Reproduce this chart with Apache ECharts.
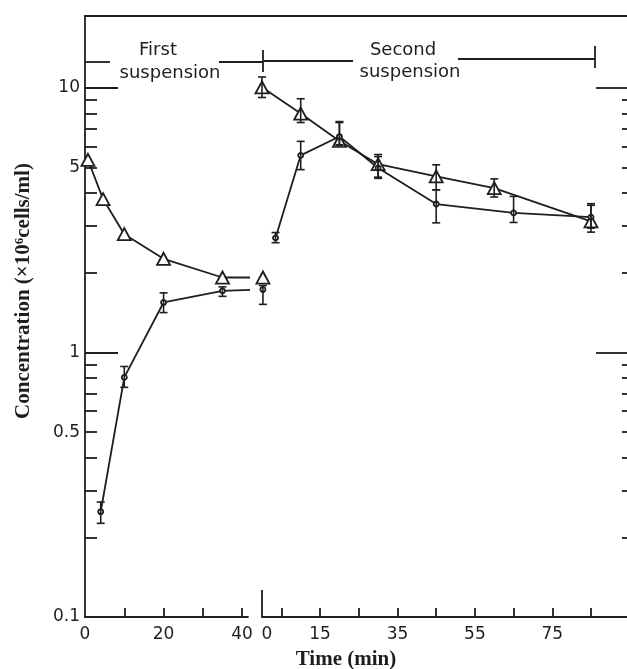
<!DOCTYPE html>
<html><head><meta charset="utf-8">
<script src="https://cdn.jsdelivr.net/npm/echarts@6/dist/echarts.min.js"></script>
<style>html,body{margin:0;padding:0;background:#fff}#c{width:627px;height:669px}</style>
</head><body><div id="c"></div>
<script>
// ---- First suspension (time in min, concentration x10^6 cells/ml) ----
const firstTriTime = [0.75, 4.6, 10, 20, 35, 45.3];
const firstTriConc = [5.35, 3.8, 2.8, 2.26, 1.92, 1.92];
const firstCirTime = [4, 10, 20, 35, 45.3];
const firstCirConc = [0.25, 0.805, 1.545, 1.71, 1.73];
const firstCirLow  = [0.226, 0.738, 1.415, 1.63, 1.52];
const firstCirHigh = [0.272, 0.885, 1.68, 1.77, 1.79];
// ---- Second suspension ----
const secondTriTime = [0, 10, 20, 30, 45, 60, 85];
const secondTriConc = [10.05, 8.0, 6.3, 5.15, 4.63, 4.18, 3.13];
const secondTriLow  = [9.2, 7.4, 6.05, 4.55, 4.12, 3.87, 2.85];
const secondTriHigh = [11.0, 9.1, 7.4, 5.6, 5.12, 4.53, 3.65];
const secondCirTime = [3.5, 10, 20, 30, 45, 65, 85];
const secondCirConc = [2.71, 5.56, 6.55, 4.98, 3.64, 3.37, 3.25];
const secondCirLow  = [2.6, 4.91, 6.1, 4.6, 3.09, 3.1, 2.95];
const secondCirHigh = [2.84, 6.28, 7.46, 5.5, 4.12, 3.89, 3.6];
// ---- Ticks / labels ----
const yMajorTicks = [1, 10];
const yMinorTicks = [0.2, 0.3, 0.4, 0.5, 0.6, 0.7, 0.8, 0.9, 2, 3, 4, 5, 6, 7, 8, 9];
const yTickLabels = [0.1, 0.5, 1, 5, 10];
const firstTimeTicks = [10, 20, 30, 40];
const firstTimeLabels = [0, 20, 40];
const secondTimeTicks = [5, 15, 25, 35, 45, 55, 65, 75, 85];
const secondTimeLabels = [0, 15, 35, 55, 75];

const INK = '#1e1e1e';
const LW = 1.8;
const Y_MIN = 0.1, Y_MAX = 18.7;
const labelFont = {color: INK, fontFamily: 'DejaVu Sans', fontSize: 17};

function errBars(times, lo, hi, xi, yi) {
  return {
    type: 'custom', xAxisIndex: xi, yAxisIndex: yi, clip: false, z: 5, silent: true,
    data: times.map((t, i) => [t, lo[i], hi[i]]),
    encode: {x: 0, y: [1, 2]},
    renderItem(params, api) {
      const x = api.value(0);
      const a = api.coord([x, api.value(1)]);
      const b = api.coord([x, api.value(2)]);
      const w = 4, st = {stroke: INK, lineWidth: 1.6};
      return {type: 'group', children: [
        {type: 'line', shape: {x1: a[0], y1: a[1], x2: b[0], y2: b[1]}, style: st},
        {type: 'line', shape: {x1: a[0]-w, y1: a[1], x2: a[0]+w, y2: a[1]}, style: st},
        {type: 'line', shape: {x1: b[0]-w, y1: b[1], x2: b[0]+w, y2: b[1]}, style: st}
      ]};
    }
  };
}
function lineSeries(times, vals, xi, yi, tri) {
  return {
    type: 'line', xAxisIndex: xi, yAxisIndex: yi, clip: false, z: 3, silent: true,
    data: times.map((t, i) => [t, vals[i]]),
    symbol: tri ? 'triangle' : 'circle',
    symbolSize: tri ? [13, 12] : 5,
    itemStyle: {color: '#fff', borderColor: INK, borderWidth: LW},
    lineStyle: {color: INK, width: LW},
    animation: false
  };
}
function yAx(grid, pos, ticks, len, lineShow, labels) {
  return {
    type: 'log', gridIndex: grid, position: pos, min: Y_MIN, max: Y_MAX,
    axisLine: {show: lineShow, onZero: false, lineStyle: {color: INK, width: LW}},
    axisTick: {show: true, inside: true, length: len, customValues: ticks, lineStyle: {color: INK, width: LW}},
    axisLabel: labels ? Object.assign({show: true, margin: 5, customValues: labels, formatter: v => String(v)}, labelFont) : {show: false},
    splitLine: {show: false}, minorTick: {show: false}
  };
}

const chart = echarts.init(document.getElementById('c'));
chart.setOption({
  animation: false,
  backgroundColor: '#fff',
  grid: [
    {left: 85, top: 16, width: 163, height: 601},
    {left: 262, top: 16, width: 366, height: 601},
    {left: 85, top: 16, width: 543, height: 601}
  ],
  xAxis: [
    {type: 'value', gridIndex: 0, min: 0, max: 41.5,
     axisLine: {show: true, onZero: false, lineStyle: {color: INK, width: LW}},
     axisTick: {show: true, inside: true, length: 9, customValues: firstTimeTicks, lineStyle: {color: INK, width: LW}},
     axisLabel: Object.assign({margin: 9, customValues: firstTimeLabels}, labelFont),
     splitLine: {show: false}},
    {type: 'value', gridIndex: 1, min: 0, max: 94.3,
     axisLine: {show: true, onZero: false, lineStyle: {color: INK, width: LW}},
     axisTick: {show: true, inside: true, length: 9, customValues: secondTimeTicks, lineStyle: {color: INK, width: LW}},
     axisLabel: Object.assign({margin: 9, customValues: secondTimeLabels,
       formatter: v => v === 0 ? '{z|0}' : String(v),
       rich: {z: {padding: [0, 0, 0, 10], fontFamily: 'DejaVu Sans', fontSize: 17, color: INK}}}, labelFont),
     splitLine: {show: false}},
    {type: 'value', gridIndex: 1, min: 0, max: 94.3, position: 'bottom',
     axisLine: {show: false, onZero: false},
     axisTick: {show: true, inside: true, length: 27, customValues: [0], lineStyle: {color: INK, width: LW}},
     axisLabel: {show: false}, splitLine: {show: false}},
    {type: 'value', gridIndex: 2, min: 0, max: 1, position: 'top',
     axisLine: {show: true, onZero: false, lineStyle: {color: INK, width: LW}},
     axisTick: {show: false}, axisLabel: {show: false}, splitLine: {show: false}}
  ],
  yAxis: [
    yAx(0, 'left', yMajorTicks, 33, true, yTickLabels),
    yAx(0, 'left', yMinorTicks, 12, false, null),
    yAx(1, 'right', yMajorTicks, 31, false, null),
    yAx(1, 'right', yMinorTicks, 5, false, null),
    Object.assign(yAx(2, 'left', [], 1, false, null), {show: false})
  ],
  series: [
    lineSeries(firstTriTime, firstTriConc, 0, 0, true),
    lineSeries(firstCirTime, firstCirConc, 0, 0, false),
    errBars(firstCirTime, firstCirLow, firstCirHigh, 0, 0),
    lineSeries(secondTriTime, secondTriConc, 1, 2, true),
    lineSeries(secondCirTime, secondCirConc, 1, 2, false),
    errBars(secondTriTime, secondTriLow, secondTriHigh, 1, 2),
    errBars(secondCirTime, secondCirLow, secondCirHigh, 1, 2)
  ],
  graphic: [
    {type: 'line', shape: {x1: 85, y1: 62, x2: 110, y2: 62}, style: {stroke: INK, lineWidth: LW}},
    {type: 'line', shape: {x1: 219, y1: 62, x2: 263, y2: 62}, style: {stroke: INK, lineWidth: LW}},
    {type: 'line', shape: {x1: 263, y1: 50, x2: 263, y2: 72}, style: {stroke: INK, lineWidth: LW}},
    {type: 'line', shape: {x1: 263, y1: 61, x2: 353, y2: 61}, style: {stroke: INK, lineWidth: LW}},
    {type: 'line', shape: {x1: 458, y1: 59, x2: 595, y2: 59}, style: {stroke: INK, lineWidth: LW}},
    {type: 'line', shape: {x1: 595, y1: 46, x2: 595, y2: 68}, style: {stroke: INK, lineWidth: LW}},
    {type: 'text', x: 158, y: 50, style: {text: 'First', align: 'center', verticalAlign: 'middle', fill: INK, font: '18px "DejaVu Sans"'}},
    {type: 'text', x: 170, y: 73, style: {text: 'suspension', align: 'center', verticalAlign: 'middle', fill: INK, font: '18px "DejaVu Sans"'}},
    {type: 'text', x: 403, y: 50, style: {text: 'Second', align: 'center', verticalAlign: 'middle', fill: INK, font: '18px "DejaVu Sans"'}},
    {type: 'text', x: 410, y: 72, style: {text: 'suspension', align: 'center', verticalAlign: 'middle', fill: INK, font: '18px "DejaVu Sans"'}},
    {type: 'text', x: 346, y: 660, style: {text: 'Time (min)', align: 'center', verticalAlign: 'middle', fill: INK, font: 'bold 21px "Liberation Serif"'}},
    {type: 'text', x: 24, y: 291, rotation: Math.PI / 2,
     style: {text: 'Concentration (×10{sup|6}cells/ml)', align: 'center', verticalAlign: 'middle', fill: INK,
       font: 'bold 21px "Liberation Serif"',
       rich: {sup: {fontSize: 13, fontWeight: 'bold', fontFamily: 'Liberation Serif', verticalAlign: 'top', padding: [0, 0, 8, 0], fill: INK}}}}
  ]
});
</script></body></html>
